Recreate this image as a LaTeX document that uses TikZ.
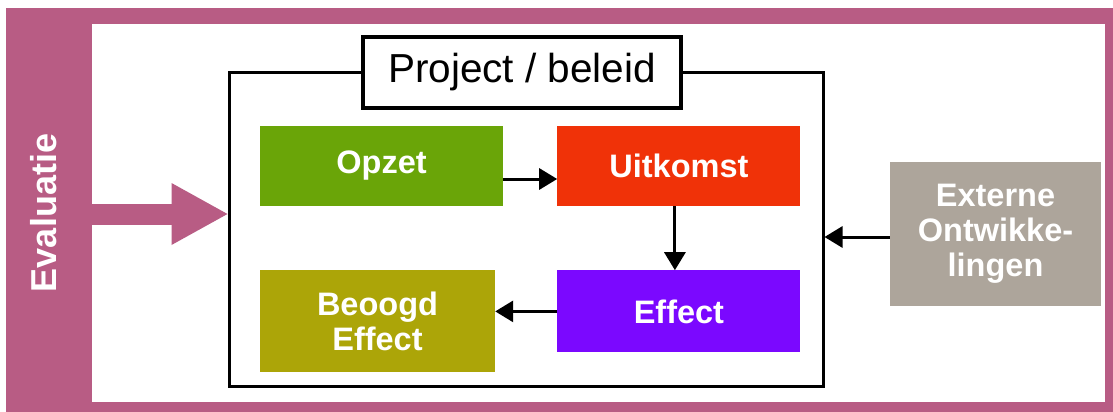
\documentclass[tikz,border=0pt]{standalone}
\usepackage{fontspec}
\setmainfont{Liberation Sans}
\usetikzlibrary{arrows.meta,positioning}
\definecolor{FramePink}{RGB}{184,92,132}
\definecolor{OpzetGreen}{RGB}{106,165,8}
\definecolor{UitkomstRed}{RGB}{240,50,8}
\definecolor{EffectPurple}{RGB}{123,8,255}
\definecolor{BeoogdOlive}{RGB}{172,165,8}
\definecolor{ExternGray}{RGB}{173,165,155}

\begin{document}
\begin{tikzpicture}[x=1pt, y=-1pt,
    box/.style={fill=#1, text=white, align=center, inner sep=0pt,
      minimum width=243pt, minimum height=80pt,
      font=\fontsize{32.5}{35}\selectfont\bfseries},
    arr/.style={-{Triangle[length=18pt,width=21pt]}, line width=3pt, draw=black},
    bigarr/.style={-{Triangle[length=56pt,width=62pt,line width=0pt]}, line width=21pt, draw=FramePink}
  ]
    \useasboundingbox[fill=white] (0,0) rectangle (1113,412);
    \fill[FramePink] (6,8) rectangle (1113,412);
    \fill[white] (92,24) rectangle (1105,402);
    \node[rotate=90, text=white, font=\fontsize{36}{40}\selectfont\bfseries] (eval) at (44,213) {Evaluatie};
    \coordinate (band) at (92,214);
    \node[draw, line width=3pt, minimum width=594pt, minimum height=314pt] (project) at (526,229) {};
    \node[draw, line width=4.5pt, fill=white, inner sep=0pt, minimum width=318pt, minimum height=71pt,
      font=\fontsize{40.5}{44}\selectfont] (label) at (522,72.5) {Project / beleid};
    \node[box=OpzetGreen] (opzet) at (381.5,166) {Opzet};
    \node[box=UitkomstRed, right=54pt of opzet] (uitkomst) {Uitkomst};
    \node[box=EffectPurple, minimum height=82pt, below=64pt of uitkomst] (effect) {Effect};
    \node[box=BeoogdOlive, minimum width=235pt, minimum height=102pt,
      below right=64pt and 0pt of opzet.south west] (beoogd) {Beoogd\\Effect};
    \node[box=ExternGray, minimum width=211pt, minimum height=144pt] (extern) at (995.5,234) {Externe\\Ontwikke-\\lingen};
    \draw[bigarr] (band) -- (band -| project.west);
    \draw[arr] ([yshift=-13pt]opzet.east) -- ([yshift=-13pt]opzet.east -| uitkomst.west);
    \draw[arr] ([xshift=-4pt]uitkomst.south) -- ([xshift=-4pt]effect.north);
    \draw[arr] (effect.west) -- (effect.west -| beoogd.east);
    \draw[arr] ([yshift=-3pt]extern.west) -- ([yshift=-3pt]extern.west -| project.east);
  \end{tikzpicture}
\end{document}
